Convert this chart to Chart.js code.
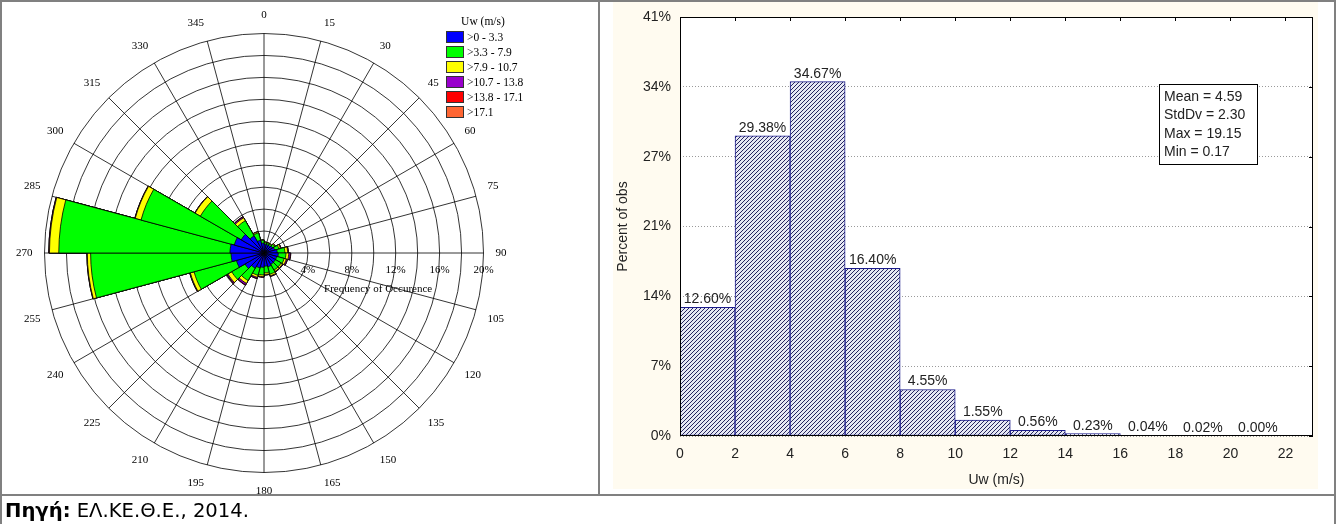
<!DOCTYPE html>
<html>
<head>
<meta charset="utf-8">
<script src="https://cdn.jsdelivr.net/npm/chart.js@4.4.1/dist/chart.umd.min.js"></script>
<style>
  body { margin: 0; width: 1340px; height: 524px; overflow: hidden; background: #fff; position: relative; }
  .line { position: absolute; background: #808080; z-index: 5; }
  #roseBox { position: absolute; left: 13px; top: 5px; }
  #histBox { position: absolute; left: 613px; top: -20px; }
  #legend { position: absolute; left: 446px; top: 14px; font-family: "Liberation Serif", serif; font-size: 11.5px; color: #000; }
  #legend .ttl { width: 74px; text-align: center; height: 15px; line-height: 15px; }
  #legend .row { height: 15px; display: flex; align-items: center; }
  #legend .sw { width: 16px; height: 10px; border: 1px solid #333; margin-right: 3px; }
  #caption { position: absolute; left: 5px; top: 500px; line-height: 22px; font-family: "DejaVu Sans", sans-serif; font-size: 19.6px; color: #000; }
</style>
</head>
<body>
<div class="line" style="left:0;top:0;width:1336px;height:2px"></div>
<div class="line" style="left:0;top:0;width:2px;height:524px"></div>
<div class="line" style="left:1334px;top:0;width:2px;height:524px"></div>
<div class="line" style="left:598px;top:0;width:2px;height:496px"></div>
<div class="line" style="left:0;top:494px;width:1336px;height:2px"></div>

<div id="roseBox"><canvas id="rose" width="497" height="497"></canvas></div>
<div id="legend"></div>
<div id="histBox"><canvas id="hist" width="705" height="509"></canvas></div>
<div id="caption"><b>Πηγή:</b> ΕΛ.ΚΕ.Θ.Ε., 2014.</div>

<script>
// wind rose: 24 sectors of 15 deg, frequency (%) per speed class
const directions = ['0', '15', '30', '45', '60', '75', '90', '105', '120', '135', '150', '165',
  '180', '195', '210', '225', '240', '255', '270', '285', '300', '315', '330', '345'];
const speedClasses = ['>0 - 3.3', '>3.3 - 7.9', '>7.9 - 10.7', '>10.7 - 13.8', '>13.8 - 17.1', '>17.1'];
const classColors = ['#0000ff', '#00ff00', '#ffff00', '#9900cc', '#ff0000', '#ff6633'];
const freqClass1 = [0.8, 0.8, 0.8, 0.9, 1.0, 1.2, 1.3, 1.2, 1.2, 1.2, 1.3, 1.2, 1.3, 1.4, 1.6, 2.0, 2.6, 3.0, 3.1, 2.8, 2.4, 1.8, 1.2, 0.9];
const freqClass2 = [0.15, 0.15, 0.15, 0.2, 0.4, 0.7, 0.7, 0.7, 0.6, 0.6, 0.7, 0.6, 0.7, 0.7, 1.3, 1.4, 4.0, 12.8, 15.6, 8.8, 4.3, 1.6, 0.7, 0.25];
const freqClass3 = [0.05, 0.05, 0.05, 0.08, 0.15, 0.25, 0.25, 0.2, 0.15, 0.15, 0.15, 0.15, 0.15, 0.2, 0.3, 0.4, 0.35, 0.3, 0.85, 0.55, 0.55, 0.3, 0.1, 0.05];
const freqClass4 = [0, 0, 0, 0.02, 0.05, 0.05, 0.15, 0.1, 0.05, 0.05, 0.05, 0.05, 0.05, 0.1, 0.15, 0.1, 0.05, 0.03, 0.05, 0.03, 0.03, 0.1, 0.02, 0];
const freqClass5 = [0, 0, 0, 0, 0.01, 0.02, 0.03, 0.02, 0.01, 0.01, 0.01, 0.01, 0.01, 0.02, 0.03, 0.02, 0.01, 0.01, 0.01, 0.01, 0.01, 0.02, 0.01, 0];
const freqClass6 = [0, 0, 0, 0, 0, 0, 0.01, 0, 0, 0, 0, 0, 0, 0, 0.01, 0, 0, 0, 0, 0, 0, 0.01, 0, 0];
const ringLabels = [4, 8, 12, 16, 20];

// histogram
const binStarts = [0, 2, 4, 6, 8, 10, 12, 14, 16, 18, 20];
const binWidth = 2;
const percentObs = [12.60, 29.38, 34.67, 16.40, 4.55, 1.55, 0.56, 0.23, 0.04, 0.02, 0.00];
const statLines = ['Mean = 4.59', 'StdDv = 2.30', 'Max = 19.15', 'Min = 0.17'];

document.addEventListener('DOMContentLoaded', function() {

  // stacked rose: each dataset holds the running total, the smaller ones are drawn on top
  const classes = [freqClass1, freqClass2, freqClass3, freqClass4, freqClass5, freqClass6];
  let running = directions.map(() => 0);
  const roseSets = classes.map((cls, k) => {
    running = running.map((v, i) => v + cls[i]);
    return {
      label: speedClasses[k],
      data: running.slice(),
      backgroundColor: classColors[k],
      borderColor: '#000',
      borderWidth: 0.8
    };
  });

  const legend = document.getElementById('legend');
  legend.innerHTML = '<div class="ttl">Uw (m/s)</div>' + roseSets.map(ds =>
    `<div class="row"><span class="sw" style="background:${ds.backgroundColor}"></span>${ds.label}</div>`).join('');

  const roseText = {
    id: 'roseText',
    afterDraw(chart) {
      const r = chart.scales.r;
      const ctx = chart.ctx;
      ctx.save();
      ctx.font = '11px "Liberation Serif"';
      ctx.fillStyle = '#000';
      ctx.textAlign = 'center';
      ctx.textBaseline = 'middle';
      ringLabels.forEach(v => ctx.fillText(v + '%', r.xCenter + r.getDistanceFromCenterForValue(v), r.yCenter + 17));
      ctx.fillText('Frequency of Occurence', r.xCenter + r.getDistanceFromCenterForValue(10.4), r.yCenter + 36);
      ctx.restore();
    }
  };

  new Chart(document.getElementById('rose'), {
    type: 'polarArea',
    data: { labels: directions, datasets: roseSets },
    options: {
      responsive: false,
      animation: false,
      plugins: { legend: { display: false }, tooltip: { enabled: false } },
      scales: {
        r: {
          min: 0,
          max: 20,
          startAngle: 0,
          ticks: { display: false, stepSize: 2 },
          grid: { circular: true, color: '#000', lineWidth: 0.8 },
          angleLines: { display: true, color: '#000', lineWidth: 0.8 },
          pointLabels: {
            display: true,
            centerPointLabels: false,
            padding: 12,
            color: '#000',
            font: { family: 'Liberation Serif', size: 11 }
          }
        }
      }
    },
    plugins: [roseText]
  });

  // diagonal hatch used to fill the histogram bars
  function hatch() {
    const c = document.createElement('canvas');
    c.width = 4;
    c.height = 4;
    const g = c.getContext('2d');
    g.fillStyle = '#e6e8f4';
    g.fillRect(0, 0, 4, 4);
    g.strokeStyle = '#26265e';
    g.lineWidth = 1;
    g.beginPath();
    g.moveTo(0, 4); g.lineTo(4, 0);
    g.moveTo(-1, 1); g.lineTo(1, -1);
    g.moveTo(3, 5); g.lineTo(5, 3);
    g.stroke();
    return g.createPattern(c, 'repeat');
  }

  const histDecor = {
    id: 'histDecor',
    beforeDraw(chart) {
      const { ctx, chartArea: a } = chart;
      ctx.save();
      ctx.fillStyle = '#fffbf0';
      ctx.fillRect(0, 0, chart.width, chart.height);
      ctx.fillStyle = '#fff';
      ctx.fillRect(a.left, a.top, a.right - a.left, a.bottom - a.top);
      ctx.restore();
    },
    afterDraw(chart) {
      const { ctx, chartArea: a } = chart;
      const xs = chart.scales.x;
      const ys = chart.scales.y;
      ctx.save();
      ctx.strokeStyle = '#000';
      ctx.lineWidth = 1;
      ctx.strokeRect(a.left + 0.5, a.top + 0.5, a.right - a.left - 1, a.bottom - a.top - 1);
      ctx.beginPath();
      xs.ticks.forEach(t => {
        const px = Math.round(xs.getPixelForValue(t.value)) + 0.5;
        ctx.moveTo(px, a.top);
        ctx.lineTo(px, a.top + 4);
      });
      ys.ticks.forEach(t => {
        const py = Math.round(ys.getPixelForValue(t.value)) + 0.5;
        ctx.moveTo(a.right, py);
        ctx.lineTo(a.right - 4, py);
      });
      ctx.stroke();

      // value labels over the bars
      ctx.font = '14px "Liberation Sans"';
      ctx.fillStyle = '#222';
      ctx.textAlign = 'center';
      ctx.textBaseline = 'bottom';
      chart.getDatasetMeta(0).data.forEach((bar, i) => {
        ctx.fillText(percentObs[i].toFixed(2) + '%', bar.x, bar.y - 1);
      });

      // statistics box
      const bx = a.left + 479;
      const by = a.top + 67;
      ctx.fillStyle = '#fff';
      ctx.fillRect(bx, by, 98, 80);
      ctx.strokeRect(bx + 0.5, by + 0.5, 98, 80);
      ctx.fillStyle = '#222';
      ctx.textAlign = 'left';
      ctx.textBaseline = 'middle';
      statLines.forEach((s, i) => ctx.fillText(s, bx + 5, by + 13 + i * 18.5));
      ctx.restore();
    }
  };

  const axisFont = { family: 'Liberation Sans', size: 14 };

  new Chart(document.getElementById('hist'), {
    type: 'bar',
    data: {
      datasets: [{
        data: binStarts.map((s, i) => ({ x: s + binWidth / 2, y: percentObs[i] })),
        backgroundColor: hatch(),
        borderColor: '#1c1c8c',
        borderWidth: 1,
        borderSkipped: false,
        barPercentage: 1,
        categoryPercentage: 1
      }]
    },
    options: {
      responsive: false,
      animation: false,
      layout: { padding: { right: 5 } },
      plugins: {
        legend: { display: false },
        tooltip: { enabled: false },
        title: {
          display: true,
          text: 'Annual',
          color: '#333',
          font: { family: 'Liberation Sans', size: 13 },
          padding: { top: 10, bottom: 11.4 }
        }
      },
      scales: {
        x: {
          type: 'linear',
          offset: false,
          min: 0,
          max: 23,
          afterFit: s => { s.height = 53; },
          grid: { display: false, drawTicks: false },
          border: { display: false },
          ticks: { stepSize: 2, includeBounds: false, padding: 10, color: '#222', font: axisFont },
          title: { display: true, text: 'Uw (m/s)', color: '#222', font: axisFont, padding: { top: 0, bottom: 0 } }
        },
        y: {
          min: 0,
          max: 41,
          afterFit: s => { s.width = 67; },
          grid: { color: '#9a9a9a', drawTicks: false, borderDash: [1, 2] },
          border: { display: false, dash: [1, 2] },
          ticks: { count: 7, padding: 9, color: '#222', font: axisFont, callback: v => Math.round(v) + '%' },
          title: { display: true, text: 'Percent of obs', color: '#222', font: axisFont, padding: { top: 2, bottom: 0 } }
        }
      }
    },
    plugins: [histDecor]
  });
});
</script>
</body>
</html>
